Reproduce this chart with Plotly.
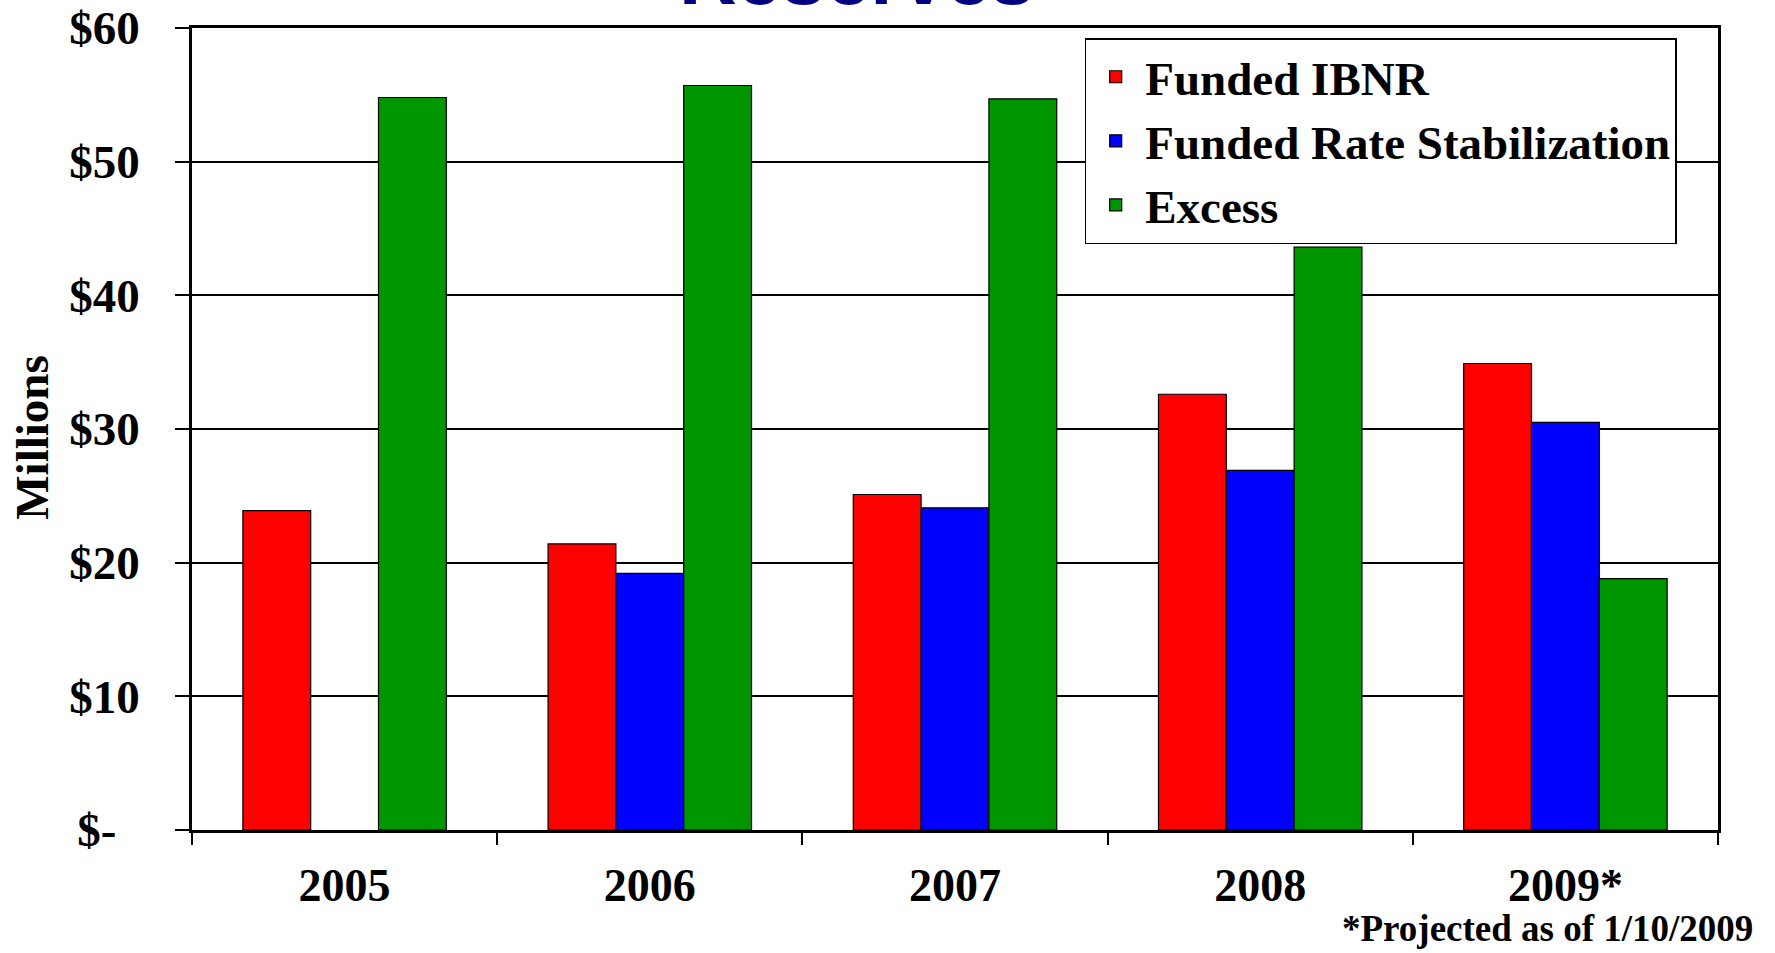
import plotly.graph_objects as go

years = ["2005", "2006", "2007", "2008", "2009*"]
funded_ibnr = [23.9, 21.4, 25.1, 32.6, 34.9]
funded_rate_stab = [None, 19.2, 24.1, 26.9, 30.5]
excess = [54.8, 55.7, 54.7, 43.6, 18.8]

y_tickvals = [0, 10, 20, 30, 40, 50, 60]
y_ticktext = ["$-\u00a0\u00a0", "$10", "$20", "$30", "$40", "$50", "$60"]

FONT = "Liberation Serif"

fig = go.Figure()
for name, vals, color in [
    ("Funded IBNR", funded_ibnr, "#FF0000"),
    ("Funded Rate Stabilization", funded_rate_stab, "#0000FF"),
    ("Excess", excess, "#009600"),
]:
    fig.add_trace(go.Bar(x=years, y=vals, name=name,
                         marker=dict(color=color, line=dict(color="black", width=1.2))))

fig.update_layout(
    width=1775, height=953,
    margin=dict(l=192, r=57, t=28, b=123, autoexpand=False),
    paper_bgcolor="white", plot_bgcolor="white",
    barmode="group", bargap=1/3, bargroupgap=0,
    font=dict(family=FONT, size=46, color="black"),
    showlegend=True,
    legend=dict(x=0.585, y=0.9873, xanchor="left", yanchor="top",
                bgcolor="white", bordercolor="black", borderwidth=1.5,
                font=dict(family=FONT, size=47, color="black", weight="bold"),
                itemwidth=49, tracegroupgap=0),
    xaxis=dict(
        type="category", tickson="boundaries", ticks="outside", ticklen=12,
        tickcolor="black", tickwidth=1.5, automargin=False,
        showline=True, linecolor="black", linewidth=2.5, mirror=True,
        showgrid=False,
        tickfont=dict(family=FONT, size=46, color="black", weight="bold"),
        ticklabelstandoff=13,
    ),
    yaxis=dict(
        range=[0, 60], tickvals=y_tickvals, ticktext=y_ticktext,
        ticks="outside", ticklen=14, tickcolor="black", tickwidth=1.5,
        automargin=False,
        showline=True, linecolor="black", linewidth=2.5, mirror=True,
        showgrid=True, gridcolor="black", gridwidth=1.5,
        zeroline=False,
        tickfont=dict(family=FONT, size=47, color="black", weight="bold"),
        ticklabelstandoff=26,
    ),
    annotations=[
        dict(text="Millions", textangle=-90, xref="paper", yref="paper",
             x=-0.105, y=0.49, xanchor="center", yanchor="middle", showarrow=False,
             font=dict(family=FONT, size=47, color="black", weight="bold")),
        dict(text="*Projected as of 1/10/2009", xref="paper", yref="paper",
             x=1.0245, y=-0.1222, xanchor="right", yanchor="middle", showarrow=False,
             font=dict(family=FONT, size=37, color="black", weight="bold")),
        dict(text="Reserves", xref="paper", yref="paper",
             x=0.436, y=1.0061, xanchor="center", yanchor="bottom", showarrow=False,
             font=dict(family="Liberation Sans", size=80, color="#000080", weight="bold")),
    ],
)

fig.write_html("out.html")
